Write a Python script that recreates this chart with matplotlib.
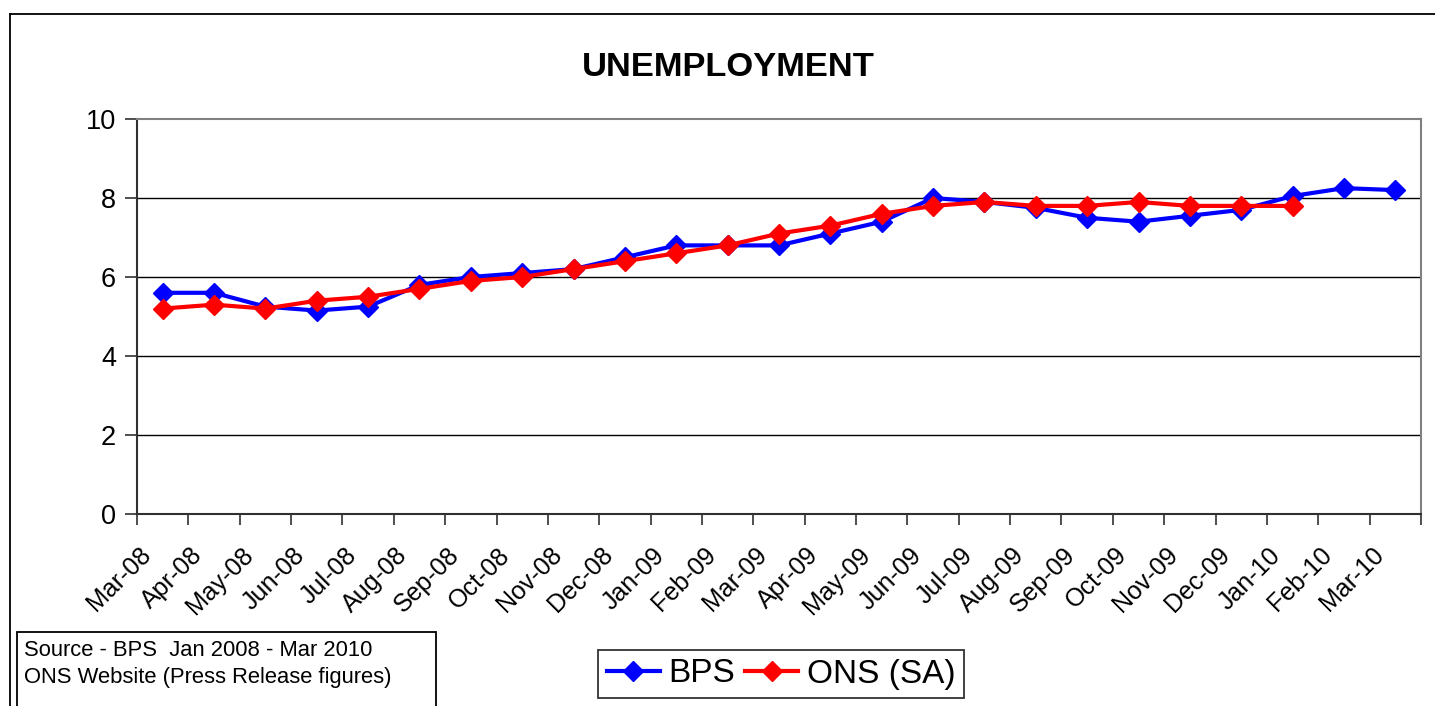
import matplotlib
matplotlib.use("Agg")
import matplotlib.pyplot as plt
from matplotlib.lines import Line2D
from matplotlib.patches import Rectangle
from matplotlib.ticker import FixedLocator

plt.rcParams['font.family'] = ['Liberation Sans', 'DejaVu Sans']

months = ["Mar-08", "Apr-08", "May-08", "Jun-08", "Jul-08", "Aug-08", "Sep-08",
          "Oct-08", "Nov-08", "Dec-08", "Jan-09", "Feb-09", "Mar-09", "Apr-09",
          "May-09", "Jun-09", "Jul-09", "Aug-09", "Sep-09", "Oct-09", "Nov-09",
          "Dec-09", "Jan-10", "Feb-10", "Mar-10"]
bps = [5.6, 5.6, 5.25, 5.15, 5.25, 5.8, 6.0, 6.1, 6.2, 6.5, 6.8, 6.8, 6.8, 7.1,
       7.4, 8.0, 7.9, 7.75, 7.5, 7.4, 7.55, 7.7, 8.05, 8.25, 8.2]
ons = [5.2, 5.3, 5.2, 5.4, 5.5, 5.7, 5.9, 6.0, 6.2, 6.4, 6.6, 6.8, 7.1, 7.3,
       7.6, 7.8, 7.9, 7.8, 7.8, 7.9, 7.8, 7.8, 7.8]
yticks = [0, 2, 4, 6, 8, 10]

W, H = 1435, 706
fig = plt.figure(figsize=(W / 100, H / 100), dpi=100)

ax = fig.add_axes([137 / W, 1 - 514 / H, (1421 - 137) / W, (514 - 119) / H])
x = list(range(len(months)))
ax.plot(x, bps, color="#0000FF", lw=3, marker="D", ms=10, label="BPS", zorder=3)
ax.plot(x[:len(ons)], ons, color="#FF0000", lw=3, marker="D", ms=10,
        label="ONS (SA)", zorder=4)

ax.set_xlim(-0.5, len(months) - 0.5)
ax.set_ylim(0, 10)
ax.set_yticks(yticks)
ax.set_yticklabels([str(v) for v in yticks], fontsize=19.5)
for v in yticks[1:-1]:
    ax.axhline(v, color="black", lw=1, zorder=1)

# label anchors sit a little left of each category centre (Excel style)
ax.set_xticks([i - 0.47 for i in x])
ax.set_xticklabels(months, fontsize=18, rotation=45, ha="right",
                   rotation_mode="anchor", va="top")
ax.xaxis.set_minor_locator(FixedLocator([i - 0.5 for i in range(len(months) + 1)]))
ax.tick_params(axis="x", which="major", length=0, pad=20.8)
ax.tick_params(axis="x", which="minor", length=8, width=1.2, color="#303030",
               direction="out")
ax.tick_params(axis="y", length=9, width=1.2, color="#303030", direction="out",
               pad=6)

for s in ["top", "right"]:
    ax.spines[s].set_color("#808080")
    ax.spines[s].set_linewidth(1.5)
for s in ["left", "bottom"]:
    ax.spines[s].set_color("#303030")
    ax.spines[s].set_linewidth(1.5)

fig.text(728 / W, 1 - 68 / H, "UNEMPLOYMENT", fontsize=24.8, fontweight="bold",
         ha="center", va="center")

# figure border
fig.add_artist(Line2D([10 / W, 10 / W], [-0.01, 1 - 14 / H], color="black",
                      lw=1.3, transform=fig.transFigure))
fig.add_artist(Line2D([10 / W, 1.01], [1 - 14 / H, 1 - 14 / H], color="black",
                      lw=1.3, transform=fig.transFigure))

# source box
fig.add_artist(Rectangle((17 / W, -0.05), (436 - 17) / W, 0.05 + (706 - 632) / H,
                         fill=False, edgecolor="black", lw=1.3,
                         transform=fig.transFigure))
fig.text(24 / W, 1 - 650 / H, "Source - BPS  Jan 2008 - Mar 2010", fontsize=15.8,
         ha="left", va="center")
fig.text(24 / W, 1 - 678 / H, "ONS Website (Press Release figures)", fontsize=15.8,
         ha="left", va="center")

leg = fig.legend(loc="center", bbox_to_anchor=(781 / W, 1 - 674 / H), ncol=2,
                 fontsize=24, frameon=True, fancybox=False, handlelength=1.6,
                 handletextpad=0.25, columnspacing=0.3, borderpad=0.25,
                 markerscale=1.0)
leg.get_frame().set_edgecolor("black")
leg.get_frame().set_linewidth(1.3)

fig.savefig("out.png", dpi=100)
